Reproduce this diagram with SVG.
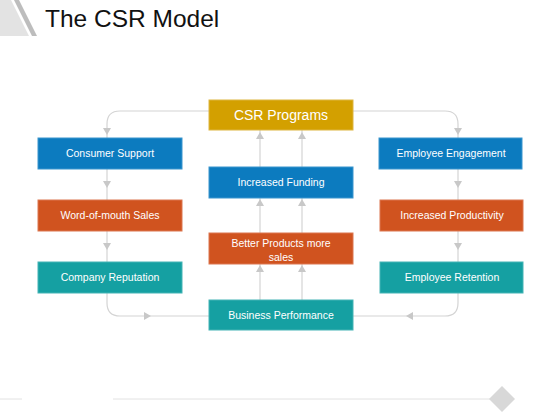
<svg xmlns="http://www.w3.org/2000/svg" width="560" height="420" viewBox="0 0 560 420">
<defs>
<style>
.box{stroke-width:1}
.blue{fill:#0C7BBF;stroke:#3A96CE}
.orange{fill:#D0531F;stroke:#DC7750}
.teal{fill:#15A0A2;stroke:#45B4B5}
.gold{fill:#D3A000;stroke:#DDB540}
.lbl{font-family:"Liberation Sans",Arial,sans-serif;font-size:10.5px;fill:#FFFFFF;text-anchor:middle}
.big{font-size:14px}
.con{fill:none;stroke:#D4D4D4;stroke-width:1.2}
.ah{fill:#C8C8C8}
</style>
<path id="ah" d="M-4,-6 L4,-6 L0,1 Z"/>
</defs>
<rect width="560" height="420" fill="#FFFFFF"/>
<g id="decor">
<polygon points="0,0 11,0 29,36 0,36" fill="#E3E3E3"/>
<polygon points="14,0 19,0 37,36 32,36" fill="#BDBDBD"/>
<line x1="0" y1="399" x2="22" y2="399" stroke="#E2E2E2" stroke-width="1"/>
<line x1="113" y1="399" x2="492" y2="399" stroke="#E2E2E2" stroke-width="1"/>
<polygon points="502,386 515,399 502,412 489,399" fill="#D8D8D8"/>
</g>
<text id="title" x="45" y="27" font-family="'Liberation Sans',Arial,sans-serif" font-size="24.5" fill="#111111">The CSR Model</text>
<g id="connectors">
<path class="con" d="M209,111 H120 Q107,111 107,124 V138"/>
<path class="con" d="M107,169 V200"/>
<path class="con" d="M107,231 V262"/>
<path class="con" d="M107,293 V303 Q107,316 120,316 H209"/>
<path class="con" d="M353,111 H445 Q458,111 458,124 V138"/>
<path class="con" d="M458,169 V200"/>
<path class="con" d="M458,231 V262"/>
<path class="con" d="M458,293 V303 Q458,316 445,316 H353"/>
<path class="con" d="M260,300 V264 M302,300 V264 M260,233 V198 M302,233 V198 M260,167 V130 M302,167 V130"/>
<g class="ah">
<use href="#ah" transform="translate(107,134)"/>
<use href="#ah" transform="translate(107,187)"/>
<use href="#ah" transform="translate(107,249)"/>
<use href="#ah" transform="translate(150,316) rotate(-90)"/>
<use href="#ah" transform="translate(458,134)"/>
<use href="#ah" transform="translate(458,187)"/>
<use href="#ah" transform="translate(458,249)"/>
<use href="#ah" transform="translate(407,316) rotate(90)"/>
<use href="#ah" transform="translate(260,266) rotate(180)"/>
<use href="#ah" transform="translate(302,266) rotate(180)"/>
<use href="#ah" transform="translate(260,200) rotate(180)"/>
<use href="#ah" transform="translate(302,200) rotate(180)"/>
<use href="#ah" transform="translate(260,133) rotate(180)"/>
<use href="#ah" transform="translate(302,133) rotate(180)"/>
</g>
</g>
<g id="csr-programs"><rect class="box gold" x="209" y="100" width="144" height="30"/><text class="lbl big" x="281" y="120">CSR Programs</text></g>
<g id="increased-funding"><rect class="box blue" x="209" y="167" width="144" height="31"/><text class="lbl" x="281" y="186">Increased Funding</text></g>
<g id="better-products"><rect class="box orange" x="209" y="233" width="144" height="31"/><text class="lbl" x="281" y="247">Better Products more</text><text class="lbl" x="281" y="261">sales</text></g>
<g id="business-performance"><rect class="box teal" x="209" y="300" width="144" height="30"/><text class="lbl" x="281" y="319">Business Performance</text></g>
<g id="consumer-support"><rect class="box blue" x="38" y="138" width="144" height="31"/><text class="lbl" x="110" y="157">Consumer Support</text></g>
<g id="word-of-mouth"><rect class="box orange" x="38" y="200" width="144" height="31"/><text class="lbl" x="110" y="219">Word-of-mouth Sales</text></g>
<g id="company-reputation"><rect class="box teal" x="38" y="262" width="144" height="31"/><text class="lbl" x="110" y="281">Company Reputation</text></g>
<g id="employee-engagement"><rect class="box blue" x="379" y="138" width="143" height="31"/><text class="lbl" x="451" y="157">Employee Engagement</text></g>
<g id="increased-productivity"><rect class="box orange" x="380" y="200" width="143" height="31"/><text class="lbl" x="452" y="219">Increased Productivity</text></g>
<g id="employee-retention"><rect class="box teal" x="380" y="262" width="143" height="31"/><text class="lbl" x="452" y="281">Employee Retention</text></g>
</svg>
